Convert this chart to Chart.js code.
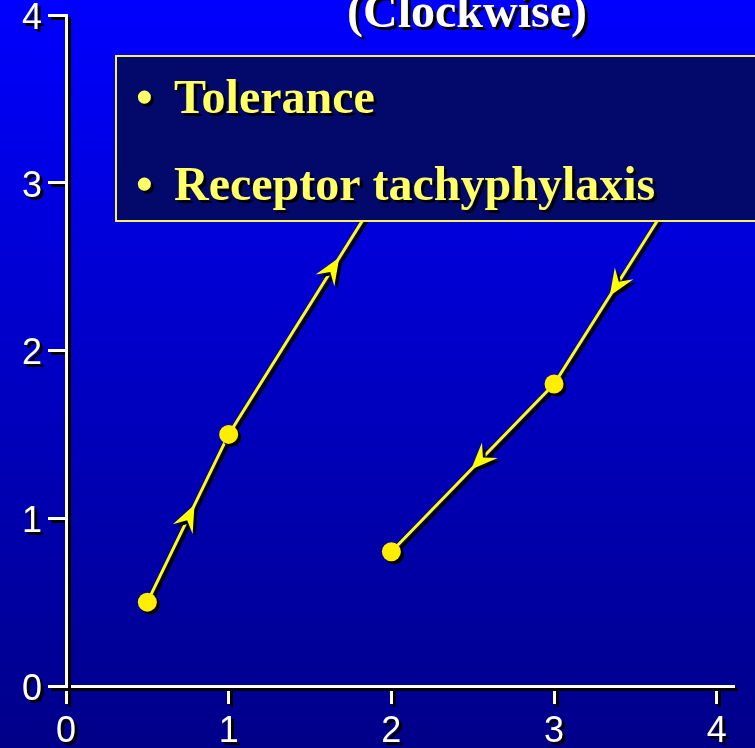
<!DOCTYPE html>
<html>
<head>
<meta charset="utf-8">
<script src="https://cdn.jsdelivr.net/npm/chart.js@4"></script>
<style>
  html, body { margin: 0; padding: 0; background: #0000c0; }
</style>
</head>
<body>
<canvas id="chart" width="755" height="748"></canvas>
<script>
// loop of effect vs concentration, top two vertices sit behind the text box
const xValues = [0.5, 1, 2, 3.9, 3, 2];
const yValues = [0.5, 1.5, 3.05, 3.18, 1.8, 0.8];
const markerShown = [true, true, false, false, true, true];
const tickLabels = ["0", "1", "2", "3", "4"];
const titleText = "(Clockwise)";
const boxLines = ["Tolerance", "Receptor tachyphylaxis"];
// arrowheads: which segment, and how far along it the tip is
const arrowSegments = [0, 1, 3, 4];
const arrowAt = [0.58, 0.68, 0.62, 0.51];

const points = xValues.map((x, i) => ({ x: x, y: yValues[i] }));

const slidePlugin = {
  id: "slide",
  beforeDraw(chart) {
    const ctx = chart.ctx;
    const g = ctx.createLinearGradient(0, 0, 0, chart.height);
    g.addColorStop(0, "#0000ff");
    g.addColorStop(1, "#000088");
    ctx.save();
    ctx.fillStyle = g;
    ctx.fillRect(0, 0, chart.width, chart.height);
    ctx.restore();
    // drop shadow for everything chart.js draws next
    ctx.save();
    ctx.shadowColor = "#000000";
    ctx.shadowOffsetX = 3;
    ctx.shadowOffsetY = 3;
    ctx.shadowBlur = 0;
  },
  afterDatasetsDraw(chart) {
    const ctx = chart.ctx;
    const meta = chart.getDatasetMeta(0);
    ctx.save();
    ctx.fillStyle = "#ffff00";
    arrowSegments.forEach((s, k) => {
      const a = meta.data[s], b = meta.data[s + 1];
      const t = arrowAt[k];
      const tx = a.x + (b.x - a.x) * t, ty = a.y + (b.y - a.y) * t;
      const len = Math.hypot(b.x - a.x, b.y - a.y);
      const ux = (b.x - a.x) / len, uy = (b.y - a.y) / len;
      const nx = -uy, ny = ux;
      const L = 27, W = 11, N = 17;
      ctx.beginPath();
      ctx.moveTo(tx, ty);
      ctx.lineTo(tx - ux * L + nx * W, ty - uy * L + ny * W);
      ctx.lineTo(tx - ux * N, ty - uy * N);
      ctx.lineTo(tx - ux * L - nx * W, ty - uy * L - ny * W);
      ctx.closePath();
      ctx.fill();
    });
    ctx.restore();
  },
  afterDraw(chart) {
    const ctx = chart.ctx;
    ctx.restore();

    // text box
    ctx.save();
    ctx.fillStyle = "#03096b";
    ctx.fillRect(116, 56, 660, 165);
    ctx.strokeStyle = "#f4f060";
    ctx.lineWidth = 2;
    ctx.strokeRect(116, 56, 660, 165);

    ctx.shadowColor = "#000000";
    ctx.shadowOffsetX = 3;
    ctx.shadowOffsetY = 3;
    ctx.font = 'bold 48px "Liberation Serif", "Times New Roman", serif';
    ctx.textBaseline = "alphabetic";
    ctx.textAlign = "left";
    ctx.fillStyle = "#ffff66";
    boxLines.forEach((line, i) => {
      const y = 113 + i * 87;
      ctx.fillText("\u2022", 136, y);
      ctx.fillText(line, 174, y);
    });

    ctx.fillStyle = "#ffffff";
    ctx.textAlign = "center";
    ctx.fillText(titleText, 467, 27);
    ctx.restore();
  }
};

Chart.defaults.font.family = '"Liberation Sans", Arial, sans-serif';
Chart.defaults.color = "#ffffff";

new Chart(document.getElementById("chart"), {
  type: "scatter",
  data: {
    datasets: [
      {
        data: points,
        showLine: true,
        borderColor: "#ffff00",
        borderWidth: 3,
        tension: 0,
        pointRadius: markerShown.map(v => (v ? 9.5 : 0)),
        pointBackgroundColor: "#ffee00",
        pointBorderWidth: 0,
        clip: false
      }
    ]
  },
  options: {
    responsive: false,
    animation: false,
    layout: { padding: { top: 15, right: 22, left: 0, bottom: 0 } },
    plugins: {
      legend: { display: false },
      tooltip: { enabled: false },
      title: { display: false }
    },
    scales: {
      x: {
        type: "linear",
        min: 0,
        max: 4.1,
        afterFit(scale) {
          scale.height = 62;
          scale.paddingLeft = 0;
          scale.paddingRight = 0;
        },
        grid: { drawOnChartArea: false, drawTicks: true, tickLength: 18, color: "#ffffff", lineWidth: 3 },
        border: { display: true, color: "#ffffff", width: 3 },
        ticks: {
          stepSize: 1,
          includeBounds: false,
          padding: 6,
          color: "#ffffff",
          font: { size: 36 },
          callback: (v) => tickLabels[v]
        }
      },
      y: {
        type: "linear",
        min: 0,
        max: 4,
        afterFit(scale) {
          scale.width = 66;
          scale.paddingTop = 0;
          scale.paddingBottom = 0;
        },
        grid: { drawOnChartArea: false, drawTicks: true, tickLength: 18, color: "#ffffff", lineWidth: 3 },
        border: { display: true, color: "#ffffff", width: 3 },
        ticks: {
          stepSize: 1,
          padding: 6,
          labelOffset: 4,
          color: "#ffffff",
          font: { size: 36 },
          callback: (v) => tickLabels[v]
        }
      }
    }
  },
  plugins: [slidePlugin]
});
</script>
</body>
</html>
